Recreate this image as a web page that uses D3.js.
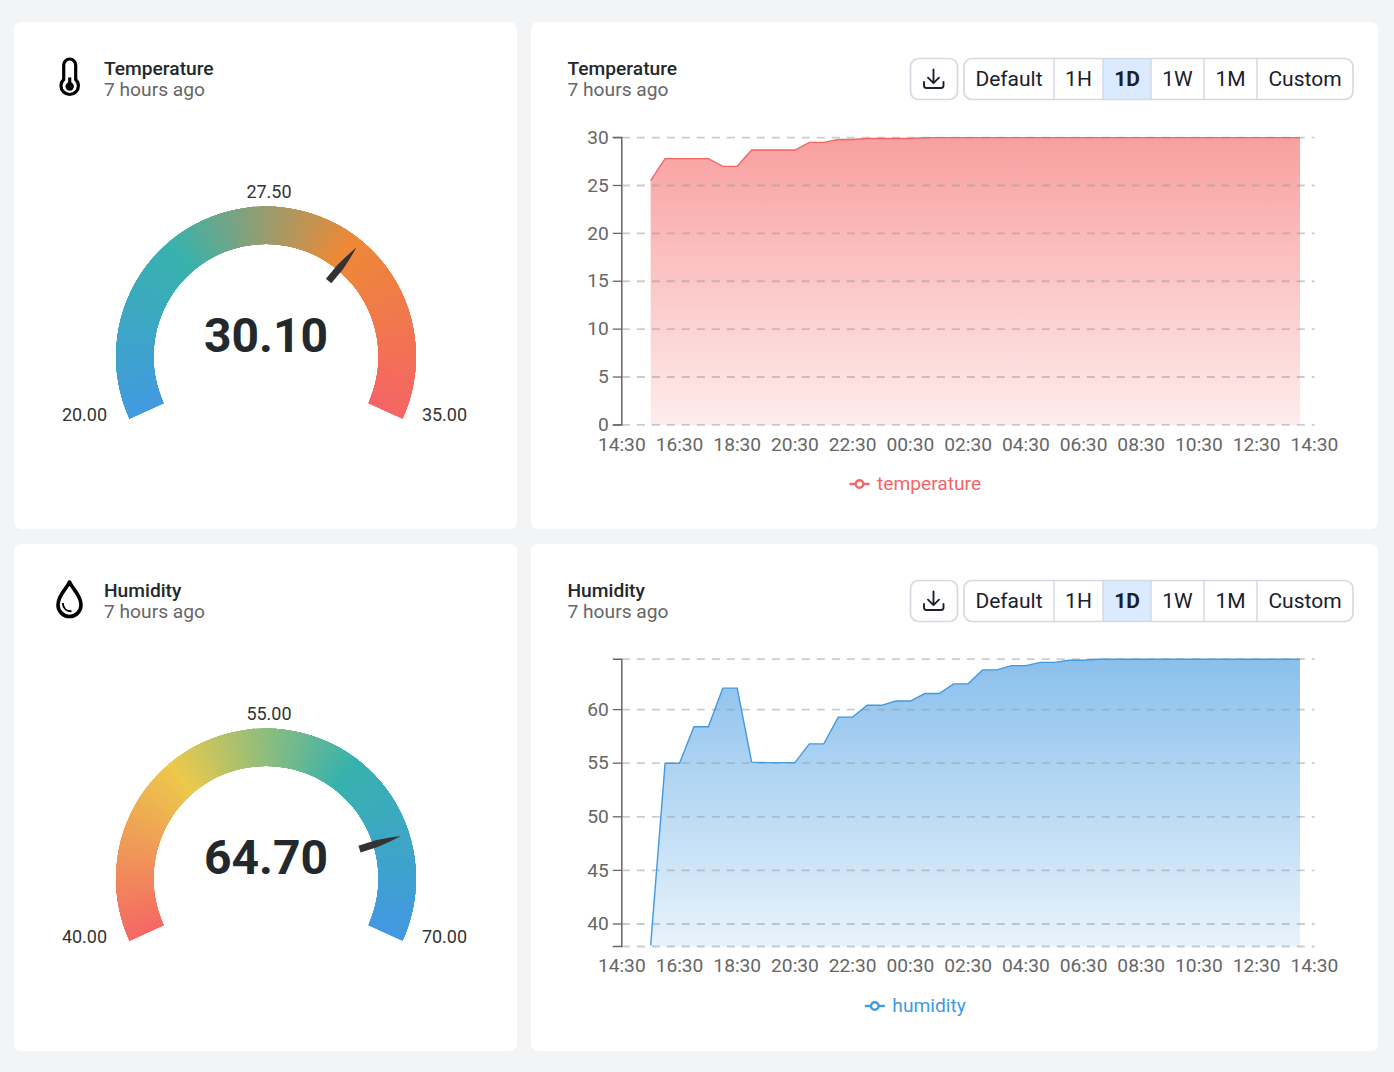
<!DOCTYPE html>
<html>
<head>
<meta charset="utf-8">
<title>Sensor dashboard</title>
<script src="https://d3js.org/d3.v7.min.js"></script>
<style>
	html, body { margin: 0; padding: 0; background: #f3f4f6; }
	svg { display: block; font-family: Roboto, sans-serif; }
</style>
</head>
<body>
<svg id="board" width="1394" height="1072"></svg>
<script>
// hours since the 14:30 axis start, one reading every half hour
const sampleHours = [1, 1.5, 2, 2.5, 3, 3.5, 4, 4.5, 5, 5.5, 6, 6.5, 7, 7.5, 8, 8.5, 9, 9.5, 10, 10.5, 11, 11.5, 12, 12.5, 13, 13.5, 14, 14.5, 15, 15.5, 16, 16.5, 17, 17.5, 18, 18.5, 19, 19.5, 20, 20.5, 21, 21.5, 22, 22.5, 23, 23.5];
const temperatureValues = [25.5, 27.8, 27.8, 27.8, 27.8, 27, 27, 28.7, 28.7, 28.7, 28.7, 29.5, 29.5, 29.8, 29.8, 29.9, 29.9, 29.9, 29.9, 30, 30, 30, 30, 30, 30, 30, 30, 30, 30, 30, 30, 30, 30, 30, 30, 30, 30, 30, 30, 30, 30, 30, 30, 30, 30, 30];
const humidityValues = [38, 55, 55, 58.4, 58.4, 62, 62, 55.1, 55.05, 55.05, 55.05, 56.8, 56.8, 59.3, 59.3, 60.4, 60.4, 60.8, 60.8, 61.5, 61.5, 62.4, 62.4, 63.7, 63.7, 64.1, 64.1, 64.4, 64.4, 64.6, 64.6, 64.7, 64.7, 64.7, 64.7, 64.7, 64.7, 64.7, 64.7, 64.7, 64.7, 64.7, 64.7, 64.7, 64.7, 64.7];

const timeTickHours = [0, 2, 4, 6, 8, 10, 12, 14, 16, 18, 20, 22, 24];
const timeTickLabels = ["14:30", "16:30", "18:30", "20:30", "22:30", "00:30", "02:30", "04:30", "06:30", "08:30", "10:30", "12:30", "14:30"];
const temperatureTicks = [0, 5, 10, 15, 20, 25, 30];
const humidityTicks = [40, 45, 50, 55, 60];
const rangeButtons = ["Default", "1H", "1D", "1W", "1M", "Custom"];
const rangeEdges = [964, 1054, 1103, 1151, 1204, 1257, 1353];

const temperatureStops = ["#4299e1", "#38b2ac", "#ed8936", "#f56565"];
const humidityStops = ["#f56565", "#ecc94b", "#38b2ac", "#4299e1"];

const rows = [
	{ id: "temp", name: "Temperature", series: "temperature", offset: 0, color: "#f56565", values: temperatureValues, plot: [424.9, 137.6],
		domain: [0, 30], ticks: temperatureTicks, min: 20, max: 35, current: 30.1, needle: 30.1, mid: "27.50", stops: temperatureStops, icon: "thermo" },
	{ id: "hum", name: "Humidity", series: "humidity", offset: 522, color: "#4299e1", values: humidityValues, plot: [424.5, 137.2],
		domain: [37.9, 64.7], ticks: humidityTicks, min: 40, max: 70, current: 64.7, needle: 64.5, mid: "55.00", stops: humidityStops, icon: "drop" }
];

const svg = d3.select("#board");
const defs = svg.append("defs");
const ink = "#1a202c";

function card(g, x, y, w, h) {
	g.append("rect").attr("x", x).attr("y", y).attr("width", w).attr("height", h).attr("rx", 7).attr("fill", "#fff");
}

function header(g, x, name) {
	g.append("text").attr("x", x).attr("y", 75).attr("font-size", 19.2).attr("font-weight", 500).attr("fill", "#22282c").text(name);
	g.append("text").attr("x", x).attr("y", 96).attr("font-size", 19.2).attr("fill", "#666").text("7 hours ago");
}

function drawIcon(g, kind) {
	const icon = g.append("g").attr("fill", "none").attr("stroke", "#000").attr("stroke-width", 3.2);
	if (kind === "thermo") {
		icon.append("path").attr("d", "M63.7 79.5V65a6 6 0 0 1 12 0V79.5a8.7 8.7 0 1 1 -12 0Z");
		icon.append("circle").attr("cx", 69.7).attr("cy", 86.5).attr("r", 4.2).attr("fill", "#000").attr("stroke", "none");
		icon.append("path").attr("d", "M69.7 87V77.5");
	} else {
		icon.attr("stroke-width", 3.6).attr("stroke-linejoin", "round");
		icon.append("path").attr("d", "M69.5 60C66 68 58 73 58 83a11.5 11.5 0 0 0 23 0C81 73 73 68 69.5 60Z");
		icon.append("path").attr("d", "M62.8 81C63 86 66.5 89.3 71.5 89.3").attr("stroke-width", 1.9);
	}
}

function drawGauge(g, row) {
	const cx = 266, cy = 356.5, outer = 150, inner = 112.5, sweep = 114.5;
	const angle = d3.scaleLinear().domain([row.min, row.max]).range([-sweep, sweep]);
	const color = d3.scaleLinear().domain([0, 1 / 3, 2 / 3, 1]).range(row.stops);
	const rad = Math.PI / 180;
	const gauge = g.append("g").attr("transform", `translate(${cx},${cy})`);

	const clipId = "sweep-" + row.id;
	const ring = d3.arc().innerRadius(inner).outerRadius(outer);
	defs.append("clipPath").attr("id", clipId).append("path")
		.attr("d", ring({ startAngle: -sweep * rad, endAngle: sweep * rad }));

	// thin hard-edged slices so the colour follows the angle, the clip gives the smooth outline
	const slice = d3.arc().innerRadius(inner - 3).outerRadius(outer + 3);
	const count = 458;
	gauge.append("g").attr("clip-path", `url(#${clipId})`)
		.selectAll("path").data(d3.range(count)).join("path")
		.attr("shape-rendering", "crispEdges")
		.attr("d", i => slice({ startAngle: (-sweep - 2 + i * 0.5) * rad, endAngle: (i === count - 1 ? sweep + 2 : -sweep + (i + 1) * 0.5 + 1) * rad }))
		.attr("fill", i => color((i + 0.5) / count));

	gauge.append("path")
		.attr("transform", `rotate(${angle(row.needle)})`)
		.attr("d", "M-3.5 -98L3.5 -98L3.5 -116Q2.2 -130 0 -141.5Q-2.2 -130 -3.5 -116Z")
		.attr("fill", "#333");

	g.append("text").attr("x", cx).attr("y", 352).attr("text-anchor", "middle")
		.attr("font-size", 48).attr("font-weight", 700).attr("fill", "#22282c").text(row.current.toFixed(2));

	const labels = [[84.5, 421, row.min.toFixed(2)], [269, 198, row.mid], [444.5, 421, row.max.toFixed(2)]];
	g.selectAll("text.limit").data(labels).join("text")
		.attr("class", "limit")
		.attr("x", d => d[0]).attr("y", d => d[1])
		.attr("text-anchor", "middle").attr("font-size", 18).attr("fill", "#333")
		.text(d => d[2]);
}

function drawButtons(g) {
	const top = 58.5, h = 41;
	g.append("rect").attr("x", 910.5).attr("y", top).attr("width", 47).attr("height", h).attr("rx", 8)
		.attr("fill", "#fff").attr("stroke", "#d5dae2").attr("stroke-width", 1.7);
	g.append("path").attr("d", "M933.5 69.5V83M928 77.7L933.5 83.2L939 77.7M924 82V85.5Q924 88 926.5 88H941Q943.5 88 943.5 85.5V82")
		.attr("fill", "none").attr("stroke", ink).attr("stroke-width", 1.9).attr("stroke-linecap", "round").attr("stroke-linejoin", "round");

	const clipId = "btn" + g.attr("data-id");
	defs.append("clipPath").attr("id", clipId).append("rect")
		.attr("x", rangeEdges[0]).attr("y", top).attr("width", rangeEdges[6] - rangeEdges[0]).attr("height", h).attr("rx", 8);

	const cells = g.append("g").attr("clip-path", `url(#${clipId})`);
	cells.selectAll("rect").data(rangeButtons).join("rect")
		.attr("x", (d, i) => rangeEdges[i]).attr("y", top)
		.attr("width", (d, i) => rangeEdges[i + 1] - rangeEdges[i]).attr("height", h)
		.attr("fill", d => d === "1D" ? "#dbeafe" : "#fff");
	cells.selectAll("line").data(rangeEdges.slice(1, 6)).join("line")
		.attr("x1", d => d).attr("x2", d => d).attr("y1", top).attr("y2", top + h)
		.attr("stroke", "#d5dae2").attr("stroke-width", 1.5);

	g.append("rect").attr("x", rangeEdges[0]).attr("y", top).attr("width", rangeEdges[6] - rangeEdges[0]).attr("height", h).attr("rx", 8)
		.attr("fill", "none").attr("stroke", "#d5dae2").attr("stroke-width", 1.7);

	g.selectAll("text.range").data(rangeButtons).join("text")
		.attr("class", "range")
		.attr("x", (d, i) => (rangeEdges[i] + rangeEdges[i + 1]) / 2).attr("y", 86)
		.attr("text-anchor", "middle").attr("font-size", 21)
		.attr("font-weight", d => d === "1D" ? 700 : 400)
		.attr("fill", ink).text(d => d);
}

function drawChart(g, row) {
	const x = d3.scaleLinear().domain([0, 24]).range([621.8, 1314.4]);
	const y = d3.scaleLinear().domain(row.domain).range(row.plot);
	const points = sampleHours.map((h, i) => [h, row.values[i]]);

	const gradId = "fade-" + row.id;
	const grad = defs.append("linearGradient").attr("id", gradId)
		.attr("gradientUnits", "userSpaceOnUse").attr("x1", 0).attr("x2", 0).attr("y1", y.range()[1]).attr("y2", y.range()[0]);
	grad.append("stop").attr("offset", 0).attr("stop-color", row.color).attr("stop-opacity", 0.62);
	grad.append("stop").attr("offset", 1).attr("stop-color", row.color).attr("stop-opacity", 0.12);

	const area = d3.area().x(d => x(d[0])).y0(y.range()[0]).y1(d => y(d[1]));
	const line = d3.line().x(d => x(d[0])).y(d => y(d[1]));

	g.append("path").datum(points).attr("d", area).attr("fill", `url(#${gradId})`);

	// dashed grid sits on top of the area, also at both ends of the value range
	const gridValues = Array.from(new Set([...row.ticks, ...row.domain]));
	g.selectAll("line.grid").data(gridValues).join("line")
		.attr("class", "grid")
		.attr("x1", x(0)).attr("x2", x(24)).attr("y1", d => y(d)).attr("y2", d => y(d))
		.attr("stroke", "#999").attr("stroke-opacity", 0.5).attr("stroke-width", 1.8).attr("stroke-dasharray", "8 7");

	g.append("path").datum(points).attr("d", line)
		.attr("fill", "none").attr("stroke", row.color).attr("stroke-width", 1.4);

	const yAxis = d3.axisLeft(y).offset(0).tickValues(row.ticks).tickSize(9).tickPadding(4).tickFormat(d3.format("d"));
	const yG = g.append("g").attr("transform", `translate(${x(0)},0)`).call(yAxis);
	const xAxis = d3.axisBottom(x).offset(0).tickValues(timeTickHours).tickSize(0).tickPadding(12)
		.tickFormat((d, i) => timeTickLabels[i]);
	const xG = g.append("g").attr("transform", `translate(0,${y.range()[0]})`).call(xAxis);
	xG.select(".domain").remove();

	[yG, xG].forEach(a => {
		a.attr("font-family", "Roboto, sans-serif").attr("font-size", 19.2);
		a.selectAll("text").attr("fill", "#666");
		a.selectAll("line").attr("stroke", "#666").attr("stroke-width", 1.3);
		a.select(".domain").attr("stroke", "#666").attr("stroke-width", 1.5);
	});

	// legend, centred under the plot
	const legend = g.append("g");
	const label = legend.append("text").attr("x", 27.5).attr("y", 6).attr("font-size", 19.2).attr("fill", row.color).text(row.series);
	legend.append("line").attr("x1", 0).attr("x2", 20).attr("y1", 0).attr("y2", 0).attr("stroke", row.color).attr("stroke-width", 2.4);
	legend.append("circle").attr("cx", 10).attr("cy", 0).attr("r", 3.8).attr("fill", "#fff").attr("stroke", row.color).attr("stroke-width", 2.4);
	const legendW = 27.5 + label.node().getComputedTextLength();
	legend.attr("transform", `translate(${915.3 - legendW / 2},484)`);
}

rows.forEach(row => {
	const g = svg.append("g").attr("data-id", row.id).attr("transform", `translate(0,${row.offset})`);
	card(g, 14, 22, 503, 507);
	card(g, 531, 22, 847, 507);
	drawIcon(g, row.icon);
	header(g, 104, row.name);
	header(g, 567.5, row.name);
	drawGauge(g, row);
	drawButtons(g);
	drawChart(g, row);
});
</script>
</body>
</html>
